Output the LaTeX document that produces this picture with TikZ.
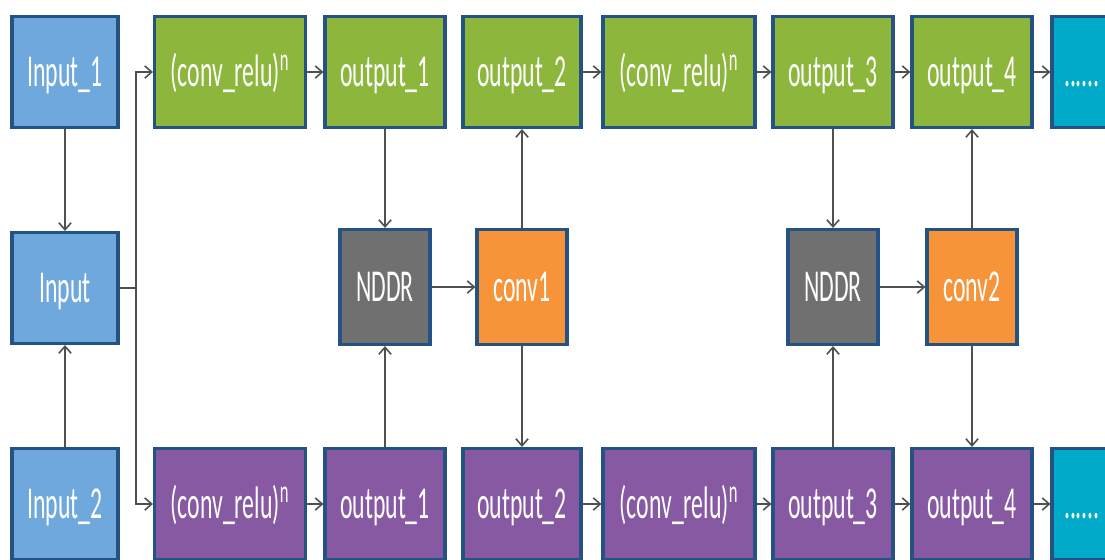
\documentclass[tikz,border=0pt]{standalone}
\usepackage{fontspec}
\usetikzlibrary{positioning, arrows.meta}
\newfontfamily\boxfont{Carlito}[FakeStretch=0.52]
\definecolor{cedge}{RGB}{36,82,130}
\definecolor{cinput}{RGB}{111,168,220}
\definecolor{ctask}{RGB}{141,182,60}
\definecolor{caux}{RGB}{135,89,162}
\definecolor{cnddr}{RGB}{112,112,112}
\definecolor{cconv}{RGB}{247,148,58}
\definecolor{cmore}{RGB}{0,170,200}
\definecolor{cline}{RGB}{80,80,80}

\begin{document}
\begin{tikzpicture}[x=0.02cm, y=-0.02cm,
    font=\boxfont\fontsize{26}{30}\selectfont,
    blk/.style={draw=cedge, line width=1.8pt, text=white, inner sep=0pt,
      text height=19pt, text depth=3pt,
      minimum width=2.4cm, minimum height=2.22cm},
    inbox/.style={blk, fill=cinput, minimum width=2.12cm},
    taskbox/.style={blk, fill=ctask},
    auxbox/.style={blk, fill=caux},
    nddrbox/.style={blk, fill=cnddr, minimum width=1.8cm, minimum height=2.3cm},
    convbox/.style={blk, fill=cconv, minimum width=1.8cm, minimum height=2.3cm},
    morebox/.style={blk, fill=cmore, minimum width=1.2cm},
    link/.style={cline, line width=0.9pt},
    arr/.style={link, -{Straight Barb[length=4pt, width=7pt]}}]

  \clip (0,0) rectangle (1105,559);
  \fill[white] (0,0) rectangle (1105,559);

  % --- inputs (left column) ---
  \node[inbox] (in1) at (65,72) {Input\_1};
  \node[inbox] (in) at (65,288) {Input};
  \node[inbox] (in2) at (65,504) {Input\_2};

  % --- upper task branch ---
  \node[taskbox, minimum width=3.02cm] (tcr1) at (230,72) {(conv\_relu)\textsuperscript{n}};
  \node[taskbox] (to1) at (385,72) {output\_1};
  \node[taskbox, minimum width=2.36cm] (to2) at (522,72) {output\_2};
  \node[taskbox, minimum width=3.04cm] (tcr2) at (679,72) {(conv\_relu)\textsuperscript{n}};
  \node[taskbox] (to3) at (833,72) {output\_3};
  \node[taskbox] (to4) at (972,72) {output\_4};
  \node[morebox] (tmore) at (1082,72) {......};

  % --- lower task branch ---
  \node[auxbox, minimum width=3.02cm] (acr1) at (230,504) {(conv\_relu)\textsuperscript{n}};
  \node[auxbox] (ao1) at (385,504) {output\_1};
  \node[auxbox, minimum width=2.36cm] (ao2) at (522,504) {output\_2};
  \node[auxbox, minimum width=3.04cm] (acr2) at (679,504) {(conv\_relu)\textsuperscript{n}};
  \node[auxbox] (ao3) at (833,504) {output\_3};
  \node[auxbox] (ao4) at (972,504) {output\_4};
  \node[morebox] (amore) at (1082,504) {......};

  % --- fusion layers ---
  \node[nddrbox] (nddr1) at (385,287) {NDDR};
  \node[convbox] (conv1) at (522,287) {conv1};
  \node[nddrbox] (nddr2) at (833,287) {NDDR};
  \node[convbox] (conv2) at (972,287) {conv2};

  % --- input split ---
  \draw[arr] (in1) -- (in);
  \draw[arr] (in2) -- (in);
  \coordinate (split) at (136,288);
  \draw[link] (in.east) -- (split);
  \draw[arr] (split) |- (tcr1.west);
  \draw[arr] (split) |- (acr1.west);

  % --- chains ---
  \foreach \a/\b in {tcr1/to1, to2/tcr2, tcr2/to3, to3/to4, to4/tmore,
                     acr1/ao1, ao2/acr2, acr2/ao3, ao3/ao4, ao4/amore}
    \draw[arr] (\a) -- (\b);

  % --- cross connections ---
  \draw[arr] (to1) -- (nddr1);
  \draw[arr] (ao1) -- (nddr1);
  \draw[arr] (nddr1) -- (conv1);
  \draw[arr] (conv1) -- (to2);
  \draw[arr] (conv1) -- (ao2);
  \draw[arr] (to3) -- (nddr2);
  \draw[arr] (ao3) -- (nddr2);
  \draw[arr] (nddr2) -- (conv2);
  \draw[arr] (conv2) -- (to4);
  \draw[arr] (conv2) -- (ao4);
\end{tikzpicture}
\end{document}
